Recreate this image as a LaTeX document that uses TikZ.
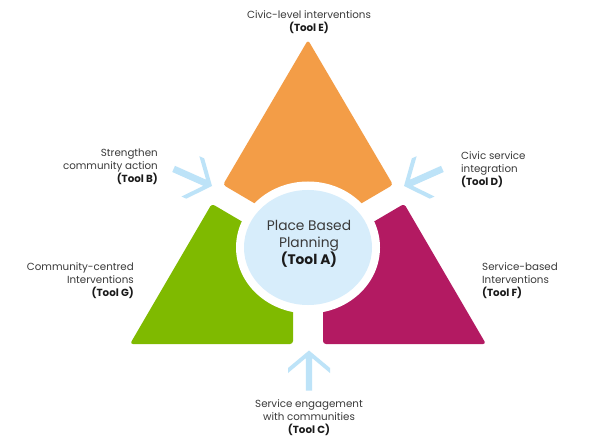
\documentclass[tikz,border=0pt]{standalone}
\usepackage{fontspec}
\setmainfont{Poppins}
\definecolor{orangeC}{HTML}{F39D47}
\definecolor{greenC}{HTML}{7FBA00}
\definecolor{magC}{HTML}{B31A62}
\definecolor{circC}{HTML}{D7EDFB}
\definecolor{arrC}{HTML}{BDE3F8}
\definecolor{txtC}{HTML}{3A3A3A}
\definecolor{boldC}{HTML}{1A1A1A}
\newcommand{\tl}[1]{\textcolor{boldC}{\bfseries #1}}
\begin{document}
\begin{tikzpicture}[x=1pt,y=-1pt,
  lbl/.style={font=\fontsize{10.3}{12.9}\selectfont, text=txtC, inner sep=0pt},
  mainlbl/.style={font=\fontsize{13.8}{17}\selectfont, text=txtC, inner sep=0pt, align=center},
  piece/.style={rounded corners=3pt},
  chev/.pic={\fill[arrC] (0,0) -- (-21,17.5) -- (-21,22.5) -- (-3.2,7.6) -- (-3.2,40) -- (3.2,40) -- (3.2,7.6) -- (21,22.5) -- (21,17.5) -- cycle;}]
\useasboundingbox (0,0) rectangle (602,446);
\fill[white] (0,0) rectangle (602,446);
% triangle pieces
\fill[orangeC, piece] (223,184.8) -- (308,40) -- (393,184.8) -- (308,234.7) -- cycle;
\fill[greenC, piece] (211.8,203.8) -- (130,344) -- (293,344) -- (293,251.5) -- cycle;
\fill[magC, piece] (404.2,203.8) -- (486,344) -- (323,344) -- (323,251.5) -- cycle;
% halo and centre
\fill[white] (308,247.5) ellipse [x radius=72, y radius=66];
\fill[circC] (308,247.5) ellipse [x radius=64, y radius=57.5];
\node[mainlbl] (A) at (309,244) {Place Based\\Planning\\\tl{(Tool A)}};
% arrows
\pic[rotate=-114, scale=1.05] at (212,186) {chev};
\pic[rotate=114, scale=1.05] at (404,186) {chev};
\pic at (309,350.5) {chev};
% labels
\node[lbl, align=center] (E) at (309,22) {Civic-level interventions\\\tl{(Tool E)}};
\node[lbl, align=right, anchor=east] (B) at (158,166.5) {Strengthen\\community action\\\tl{(Tool B)}};
\node[lbl, align=right, anchor=east] (G) at (134,281) {Community-centred\\Interventions\\\tl{(Tool G)}};
\node[lbl, align=left, anchor=west] (D) at (461,169.5) {Civic service\\integration\\\tl{(Tool D)}};
\node[lbl, align=left, anchor=west] (F) at (482,281) {Service-based\\Interventions\\\tl{(Tool F)}};
\node[lbl, align=center] (C) at (309,418) {Service engagement\\with communities\\\tl{(Tool C)}};
\end{tikzpicture}
\end{document}
